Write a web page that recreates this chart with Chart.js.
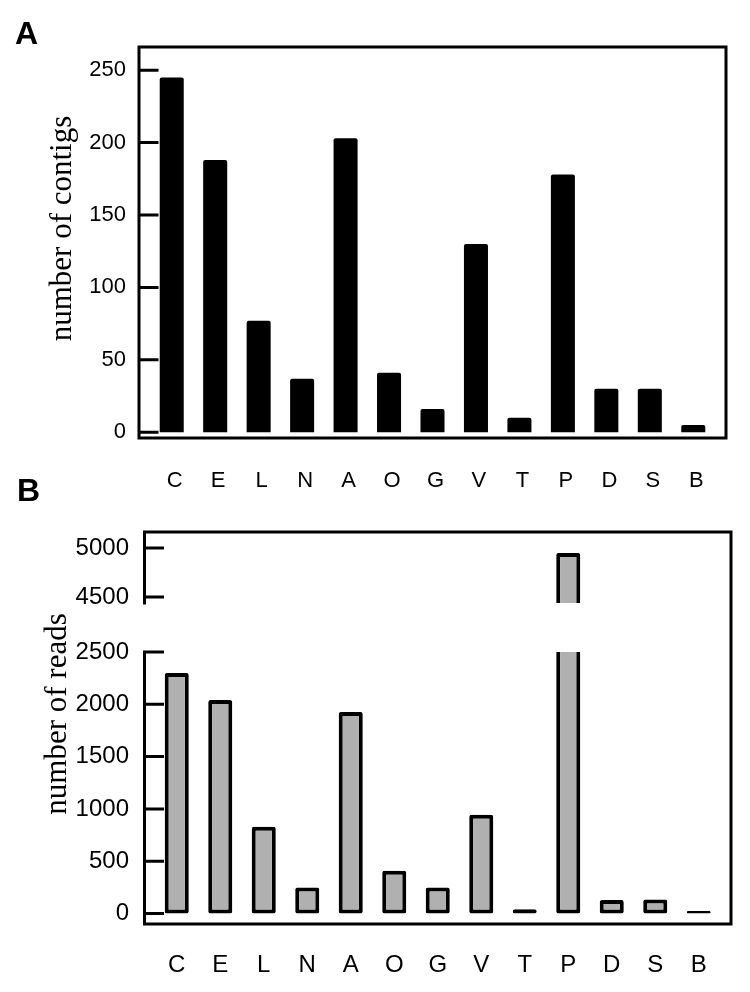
<!DOCTYPE html>
<html>
<head>
<meta charset="utf-8">
<script src="https://cdn.jsdelivr.net/npm/chart.js@4/dist/chart.umd.min.js"></script>
<style>
  body { margin: 0; background: #fff; }
  #wrap { position: relative; width: 750px; height: 992px; }
  .panel { position: absolute; left: 0; width: 750px; }
  .tag { position: absolute; font: bold 32px 'Liberation Sans', Arial, sans-serif; line-height: 1; }
</style>
</head>
<body>
<div id="wrap">
  <div class="panel" style="top:0;height:490px"><canvas id="chartA"></canvas></div>
  <div class="panel" style="top:490px;height:502px"><canvas id="chartB"></canvas></div>
  <div class="tag" style="left:15px;top:17px">A</div>
  <div class="tag" style="left:17px;top:474px">B</div>
</div>
<script>
const categories = ['C', 'E', 'L', 'N', 'A', 'O', 'G', 'V', 'T', 'P', 'D', 'S', 'B'];
const contigs = [245, 188, 77, 37, 203, 41, 16, 130, 10, 178, 30, 30, 5];
const reads = [2300, 2040, 830, 248, 1927, 410, 248, 945, 40, 4950, 130, 135, 25];
const contigTicks = [0, 50, 100, 150, 200, 250];
const readTicksLow = [0, 500, 1000, 1500, 2000, 2500];
const readTicksHigh = [4500, 5000];

const sans = "'Liberation Sans', Arial, sans-serif";

// box around the plot, inward ticks, broken left axis and the rotated y title
const framePlugin = {
    id: 'frame',
    afterDatasetsDraw(chart, args, opts) {
        const ctx = chart.ctx;
        const ys = opts.axes.map(id => chart.scales[id]);
        const left = chart.chartArea.left - opts.pad;
        const right = chart.chartArea.right + opts.pad;
        const top = Math.min(...ys.map(s => s.top));
        const bottom = Math.max(...ys.map(s => s.bottom));
        ctx.save();
        ctx.strokeStyle = '#000';
        ctx.lineWidth = 3;
        ctx.lineCap = 'square';
        ctx.beginPath();
        ctx.moveTo(left, top);
        ctx.lineTo(right, top);
        ctx.lineTo(right, bottom);
        ctx.lineTo(left, bottom);
        ys.forEach(s => {
            ctx.moveTo(left, s.top);
            ctx.lineTo(left, s.bottom);
            s.ticks.forEach(t => {
                const y = s.getPixelForValue(t.value);
                ctx.moveTo(left, y);
                ctx.lineTo(left + 18, y);
            });
        });
        ctx.stroke();
        ctx.translate(opts.titleX, (top + bottom) / 2 - 14);
        ctx.rotate(-Math.PI / 2);
        ctx.font = "31px 'Liberation Serif', 'Times New Roman', serif";
        ctx.fillStyle = '#000';
        ctx.textAlign = 'center';
        ctx.textBaseline = 'middle';
        ctx.fillText(opts.title, 0, 0);
        ctx.restore();
    }
};

// each dataset only shows inside its own y axis band
const axisClip = {
    id: 'axisClip',
    beforeDatasetDraw(chart, args) {
        const s = args.meta.yScale;
        chart.ctx.save();
        chart.ctx.beginPath();
        chart.ctx.rect(0, s.top, chart.width, s.bottom - s.top);
        chart.ctx.clip();
    },
    afterDatasetDraw(chart) {
        chart.ctx.restore();
    }
};

function yAxis(min, max, tickList, width, pad, size) {
    return {
        position: 'left',
        min: min,
        max: max,
        grid: { display: false },
        border: { display: false },
        afterBuildTicks: s => { s.ticks = tickList.map(v => ({ value: v })); },
        afterFit: s => { s.width = width; },
        ticks: { color: '#000', padding: pad, font: { family: sans, size: size }, callback: v => String(v) }
    };
}

function xAxis(height, pad, size, shift) {
    return {
        grid: { display: false },
        border: { display: false },
        afterFit: s => { s.height = height; },
        ticks: { color: '#000', padding: pad, labelOffset: shift, maxRotation: 0, autoSkip: false, font: { family: sans, size: size } }
    };
}

const ctxA = document.getElementById('chartA').getContext('2d');
const chartA = new Chart(ctxA, {
    type: 'bar',
    data: {
        labels: categories,
        datasets: [{
            data: contigs,
            backgroundColor: '#000',
            borderWidth: 0,
            borderRadius: 2,
            barPercentage: 0.553,
            categoryPercentage: 1
        }]
    },
    options: {
        responsive: true,
        maintainAspectRatio: false,
        animation: false,
        layout: { padding: { top: 47, right: 35, left: 0, bottom: 0 } },
        plugins: {
            legend: { display: false },
            tooltip: { enabled: false },
            frame: { axes: ['y'], pad: 11, titleX: 63, title: 'number of contigs' }
        },
        scales: {
            x: xAxis(52, 22, 22, 3),
            y: yAxis(-4, 266, contigTicks, 150, 16, 22)
        }
    },
    plugins: [framePlugin]
});

const ctxB = document.getElementById('chartB').getContext('2d');
const barB = {
    backgroundColor: '#b0b0b0',
    borderColor: '#000',
    borderWidth: 4,
    borderRadius: 2,
    barPercentage: 0.553,
    categoryPercentage: 1,
    grouped: false
};
const yLow = yAxis(-100, 2500, readTicksLow, 155, 18, 24);
yLow.stack = 'reads';
yLow.stackWeight = 272;
const yHigh = yAxis(4439, 5163, readTicksHigh, 155, 18, 24);
yHigh.stack = 'reads';
yHigh.stackWeight = 71;
const chartB = new Chart(ctxB, {
    type: 'bar',
    data: {
        labels: categories,
        datasets: [
            Object.assign({ data: reads, yAxisID: 'yLow', borderSkipped: false }, barB),
            Object.assign({ data: reads, yAxisID: 'yHigh', borderSkipped: 'start' }, barB)
        ]
    },
    options: {
        responsive: true,
        maintainAspectRatio: false,
        animation: false,
        layout: { padding: { top: 42, right: 29.5, left: 0, bottom: 0 } },
        plugins: {
            legend: { display: false },
            tooltip: { enabled: false },
            frame: { axes: ['yHigh', 'yLow'], pad: 10.5, titleX: 58, title: 'number of reads' }
        },
        scales: {
            x: xAxis(68, 19, 24, 0),
            yLow: yLow,
            yGap: {
                position: 'left',
                stack: 'reads',
                stackWeight: 49,
                grid: { display: false },
                border: { display: false },
                ticks: { display: false },
                afterFit: s => { s.width = 155; }
            },
            yHigh: yHigh
        }
    },
    plugins: [axisClip, framePlugin]
});
</script>
</body>
</html>
